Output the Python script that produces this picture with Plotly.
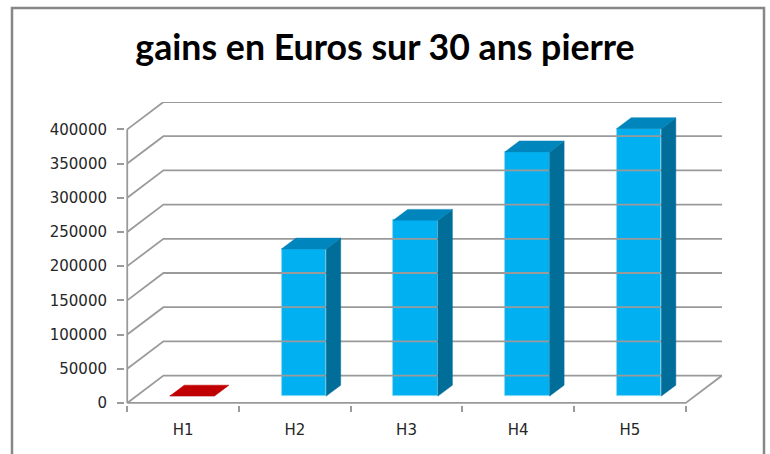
import plotly.graph_objects as go

# ---- data ----
categories = ["H1", "H2", "H3", "H4", "H5"]
values = [0, 215000, 257000, 357000, 391000]
front_colors = ["#C00000", "#00B0F0", "#00B0F0", "#00B0F0", "#00B0F0"]
top_colors = ["#C00000", "#0085BC", "#0085BC", "#0085BC", "#0085BC"]
side_colors = ["#A00000", "#006E98", "#006E98", "#006E98", "#006E98"]
y_ticks = [0, 50000, 100000, 150000, 200000, 250000, 300000, 350000, 400000]
title_text = "gains en Euros sur 30 ans pierre"

# ---- pseudo-3D projection parameters (depth offsets in axis units) ----
DX = 0.324      # horizontal shift of back wall, in category units
DY = 40000      # vertical shift of back wall, in value units
D0, D1 = 0.25, 0.65   # bar depth span (fraction of the floor depth)
HW = 0.2        # half width of bar
GRID = "#9A9A9A"

xs = list(range(len(categories)))
x_lo, x_hi = -0.5, len(categories) - 0.5

fig = go.Figure()

# back wall gridlines + side wall diagonals
gx, gy = [], []
for v in y_ticks:
    gx += [x_lo, x_lo + DX, x_hi + DX, None]
    gy += [v, v + DY, v + DY, None]
# floor front edge and right edge
gx += [x_lo, x_hi, x_hi + DX, None]
gy += [0, 0, DY, None]
# front vertical axis line
gx += [x_lo, x_lo, None]
gy += [0, y_ticks[-1], None]
fig.add_trace(go.Scatter(x=gx, y=gy, mode="lines", line=dict(color=GRID, width=1.8),
                         hoverinfo="skip", showlegend=False))

# bars: front faces through a bar trace
fig.add_trace(go.Bar(
    x=[c + D0 * DX for c in xs], y=values, base=[D0 * DY] * len(xs),
    width=2 * HW, marker=dict(color=front_colors, line=dict(color="#7FD6F5", width=0.8)),
    showlegend=False, hoverinfo="skip"))

# side and top faces
for c, v, tc, sc in zip(xs, values, top_colors, side_colors):
    fx = c + D0 * DX
    if v > 0:
        sx = [fx + HW, fx + HW + (D1 - D0) * DX, fx + HW + (D1 - D0) * DX, fx + HW, fx + HW]
        sy = [D0 * DY, D1 * DY, v + D1 * DY, v + D0 * DY, D0 * DY]
        fig.add_trace(go.Scatter(x=sx, y=sy, fill="toself", fillcolor=sc, mode="lines",
                                 line=dict(color=sc, width=0.5), hoverinfo="skip", showlegend=False))
    tx = [fx - HW, fx + HW, fx + HW + (D1 - D0) * DX, fx - HW + (D1 - D0) * DX, fx - HW]
    ty = [v + D0 * DY, v + D0 * DY, v + D1 * DY, v + D1 * DY, v + D0 * DY]
    fig.add_trace(go.Scatter(x=tx, y=ty, fill="toself", fillcolor=tc, mode="lines",
                             line=dict(color=tc, width=0.5), hoverinfo="skip", showlegend=False))

# plot area pixel layout
W, H = 770, 454
L, R, T, B = 125, 48, 102, 49
x_range = [x_lo - 0.02, x_hi + DX]
y_range = [-3000, y_ticks[-1] + DY]

def px_to_paper_x(px):
    return (px - L) / (W - L - R)

def px_to_paper_y(py):
    return (H - B - py) / (H - T - B)

fig.update_layout(
    width=W, height=H,
    margin=dict(l=L, r=R, t=T, b=B),
    paper_bgcolor="white", plot_bgcolor="white",
    bargap=0,
    title=dict(text=title_text, x=0.5, xref="container", xanchor="center",
               y=1 - 48 / H, yref="container", yanchor="middle",
               font=dict(family="Lato", size=35.7, color="#000000", weight="bold")),
    xaxis=dict(range=x_range, tickvals=xs, ticktext=categories, ticks="",
               showgrid=False, zeroline=False, showline=False,
               ticklabelstandoff=14,
               tickfont=dict(family="DejaVu Sans", size=15, color="#262626"),
               minor=dict(tickvals=[x - 0.5 for x in xs] + [x_hi], ticks="outside",
                          ticklen=6, tickcolor=GRID, tickwidth=1.8, showgrid=False)),
    yaxis=dict(range=y_range, tickvals=y_ticks, ticktext=[str(v) for v in y_ticks],
               ticks="outside", ticklen=7, tickcolor=GRID, tickwidth=1.8,
               showgrid=False, zeroline=False, showline=False,
               ticklabelstandoff=7,
               tickfont=dict(family="DejaVu Sans", size=15, color="#262626")),
    shapes=[dict(type="rect", xref="paper", yref="paper",
                 x0=px_to_paper_x(12), x1=px_to_paper_x(764),
                 y0=px_to_paper_y(480), y1=px_to_paper_y(8),
                 line=dict(color="#878787", width=2.5), fillcolor="rgba(0,0,0,0)",
                 layer="below")],
)

fig.write_html("out.html", config={"displayModeBar": False},
               post_script="document.body.style.margin='0';document.body.style.padding='0';")
